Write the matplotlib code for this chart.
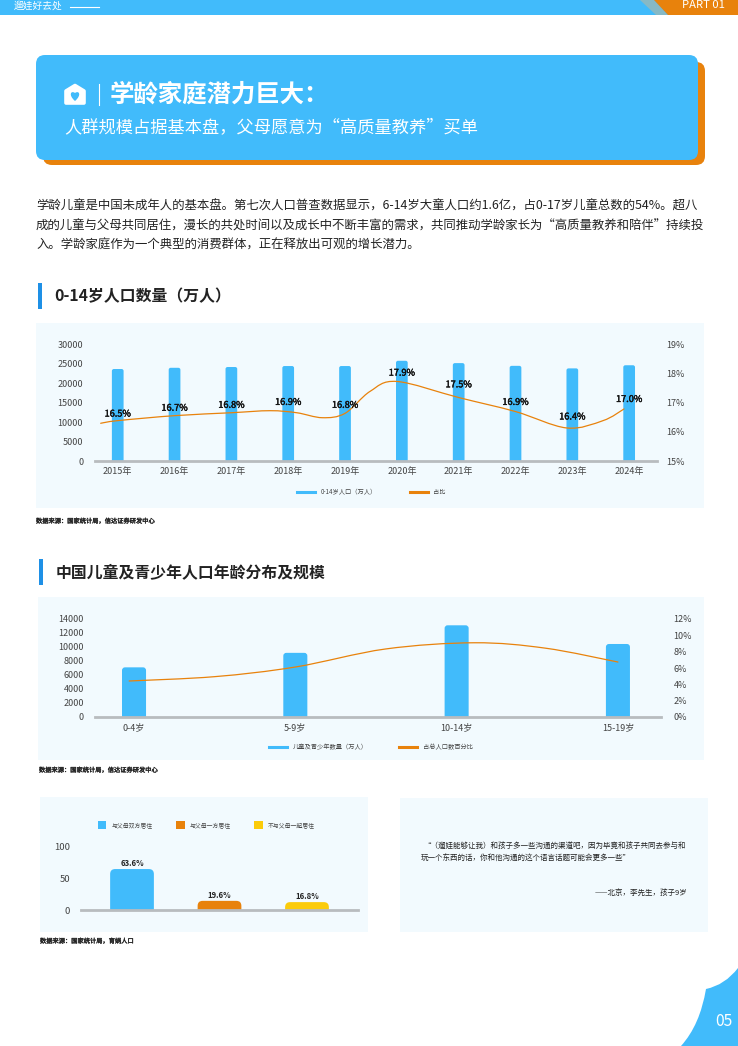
import matplotlib
matplotlib.use("Agg")
import matplotlib.pyplot as plt
import matplotlib.patheffects as pe
from matplotlib.lines import Line2D
from matplotlib.patches import FancyBboxPatch, PathPatch, Polygon, Rectangle
from matplotlib.path import Path

plt.rcParams['font.family'] = ['Noto Sans CJK SC', 'DejaVu Sans']

W, H = 738, 1046
BLUE = '#41BBFB'
ORANGE = '#E8820C'
YELLOW = '#FBCB0A'
PANEL = '#F2FAFE'
GREY = '#B8BCBF'
INK = '#222222'
TICK = '#444444'

# chart 1
years = ['2015年', '2016年', '2017年', '2018年', '2019年', '2020年', '2021年', '2022年', '2023年', '2024年']
pop = [23590, 23900, 24100, 24350, 24350, 25700, 25100, 24400, 23750, 24550]
share_labels = [16.5, 16.7, 16.8, 16.9, 16.8, 17.9, 17.5, 16.9, 16.4, 17.0]
share_x = [-0.3, 0, 1, 2, 2.68, 3.15, 3.6, 4, 4.44, 4.91, 6, 7, 7.9, 8.54, 8.91]
share_y = [16.29, 16.38, 16.55, 16.65, 16.72, 16.65, 16.48, 16.63, 17.38, 17.72, 17.17, 16.69, 16.13, 16.38, 16.78]

# chart 2
ages = ['0-4岁', '5-9岁', '10-14岁', '15-19岁']
age_pop = [7094, 9164, 13100, 10430]
age_x = [-0.03, 0.5, 1, 1.56, 2.11, 2.55, 3]
age_y = [4.41, 4.94, 6.12, 8.33, 9.09, 8.43, 6.73]

# chart 3
live_names = ['与父母双方居住', '与父母一方居住', '不与父母一起居住']
live_labels = [63.6, 19.6, 16.8]
live_heights = [65, 14.5, 12.5]

body = ['学龄儿童是中国未成年人的基本盘。第七次人口普查数据显示，6-14岁大童人口约1.6亿，占0-17岁儿童总数的54%。超八',
        '成的儿童与父母共同居住，漫长的共处时间以及成长中不断丰富的需求，共同推动学龄家长为“高质量教养和陪伴”持续投',
        '入。学龄家庭作为一个典型的消费群体，正在释放出可观的增长潜力。']

fig = plt.figure(figsize=(W / 100, H / 100), dpi=100, facecolor='white')

bg = fig.add_axes([0, 0, 1, 1], zorder=-1)
bg.set_xlim(0, W)
bg.set_ylim(H, 0)
bg.axis('off')


def px_axes(x0, y0, x1, y1):
    ax = fig.add_axes([x0 / W, 1 - y1 / H, (x1 - x0) / W, (y1 - y0) / H])
    ax.patch.set_visible(False)
    return ax


def style_axes(ax, pad_left, pad_bottom=4.5, size=6.5):
    for s in ['top', 'left', 'right']:
        ax.spines[s].set_visible(False)
    ax.spines['bottom'].set_color(GREY)
    ax.spines['bottom'].set_linewidth(2)
    ax.tick_params(axis='both', length=0, labelsize=size, labelcolor=TICK)
    ax.tick_params(axis='y', pad=pad_left)
    ax.tick_params(axis='x', pad=pad_bottom)


def round_bars(ax, bars, r_px, px_w, px_h):
    # swap the square bars for ones with rounded tops
    x0, x1 = ax.get_xlim()
    y0, y1 = ax.get_ylim()
    xu = (x1 - x0) / px_w
    yu = (y1 - y0) / px_h
    for b in bars:
        b.set_visible(False)
        p = FancyBboxPatch((b.get_x(), -r_px * 2 * yu), b.get_width(), b.get_height() + r_px * 2 * yu,
                           boxstyle='round,pad=0,rounding_size=%f' % (r_px * xu),
                           mutation_aspect=yu / xu, fc=b.get_facecolor(), ec='none', clip_on=True)
        ax.add_patch(p)
        p.set_clip_path(ax.patch)


def smooth_line(ax, xs, ys, color=ORANGE, lw=0.9):
    # Catmull-Rom segments through the read points
    pts = list(zip(xs, ys))
    verts = [pts[0]]
    codes = [Path.MOVETO]
    for i in range(len(pts) - 1):
        a = pts[max(i - 1, 0)]
        b = pts[i]
        c = pts[i + 1]
        d = pts[min(i + 2, len(pts) - 1)]
        verts += [(b[0] + (c[0] - a[0]) / 6, b[1] + (c[1] - a[1]) / 6),
                  (c[0] - (d[0] - b[0]) / 6, c[1] - (d[1] - b[1]) / 6), c]
        codes += [Path.CURVE4] * 3
    ax.add_patch(PathPatch(Path(verts, codes), fc='none', ec=color, lw=lw, capstyle='round'))


def card(x0, y0, x1, y1, r, color):
    bg.add_patch(FancyBboxPatch((x0, y0), x1 - x0, y1 - y0, boxstyle='round,pad=0,rounding_size=%f' % r,
                                fc=color, ec='none'))


def section(x, y0, y1, tx, label):
    bg.add_patch(Rectangle((x, y0), 4, y1 - y0, fc='#1E90E6', ec='none'))
    bg.text(tx, (y0 + y1) / 2, label, fontsize=11.4, fontweight='bold', color=INK, va='center')


def source(x, y, label):
    t = bg.text(x, y, label, fontsize=4.5, color=INK, va='center')
    t.set_path_effects([pe.withStroke(linewidth=0.25, foreground=INK)])


# header
bg.add_patch(Rectangle((0, 0), W, 15, fc=BLUE, ec='none'))
bg.add_patch(Polygon([(640, 0), (654, 0), (668, 15), (656, 15)], fc='#86B9C6', ec='none'))
bg.add_patch(Polygon([(654, 0), (W, 0), (W, 15), (668, 15)], fc=ORANGE, ec='none'))
bg.text(14, 6, '遛娃好去处', fontsize=7, color='white', va='center')
bg.plot([70, 99], [6.5, 6.5], color='white', lw=0.8)
bg.text(682, 5.5, 'PART 01', fontsize=8.1, color='white', va='center')

# title card
card(43, 62, 705, 165, 9, ORANGE)
card(36, 55, 698, 160, 9, BLUE)
bg.add_patch(Polygon([(66, 91), (75, 85.5), (84, 91), (84, 103), (66, 103)], fc='white', ec='white', lw=2.6, joinstyle='round'))
heart = Path([(75, 101), (68, 95), (71, 90), (75, 93), (79, 90), (82, 95), (75, 101)],
             [Path.MOVETO] + [Path.CURVE4] * 6)
bg.add_patch(PathPatch(heart, fc=BLUE, ec='none'))
bg.plot([99, 99], [84, 105], color='white', lw=0.8)
bg.text(110, 95, '学龄家庭潜力巨大：', fontsize=17.6, fontweight='bold', color='white', va='center')
bg.text(64, 128.5, '人群规模占据基本盘，父母愿意为“高质量教养”买单', fontsize=12.4, color='white', va='center')

for line, y in zip(body, [206, 226, 245]):
    bg.text(36, y, line, fontsize=8.93, color=INK, va='center')

# chart 1
section(38, 283, 309, 54, '0-14岁人口数量（万人）')
bg.add_patch(Rectangle((36, 323), 668, 185, fc=PANEL, ec='none'))
source(36, 521, '数据来源：国家统计局，信达证券研发中心')

ax1 = px_axes(95, 344, 657, 461)
x1 = list(range(len(years)))
bars1 = ax1.bar(x1, pop, width=0.206, color=BLUE)
ax1.set_xlim(-0.4, 9.49)
ax1.set_ylim(0, 30000)
ax1.set_xticks(x1, years)
ax1.set_yticks(range(0, 30001, 5000))
style_axes(ax1, 8.5)
round_bars(ax1, bars1, 2, 562, 117)
ax1r = ax1.twinx()
ax1r.patch.set_visible(False)
ax1r.set_ylim(15, 19)
ax1r.set_yticks([15, 16, 17, 18, 19], ['15%', '16%', '17%', '18%', '19%'])
for s in ax1r.spines.values():
    s.set_visible(False)
ax1r.tick_params(axis='y', length=0, labelsize=6.5, labelcolor=TICK, pad=6.5)
smooth_line(ax1r, share_x, share_y)
for i, v in enumerate(share_labels):
    t = ax1r.annotate('%.1f%%' % v, (i, v), xytext=(0, 2.2), textcoords='offset points', ha='center', va='center',
                      fontsize=6.6, color='#111111')
    t.set_path_effects([pe.withStroke(linewidth=0.3, foreground='#111111')])
ax1.legend([Line2D([], [], color=BLUE, lw=2.2), Line2D([], [], color=ORANGE, lw=2.2)],
           ['0-14岁人口（万人）', '占比'], loc='center left', bbox_to_anchor=(297 / W, 1 - 492 / H),
           bbox_transform=fig.transFigure, ncol=2, frameon=False, fontsize=4.5, borderpad=0, borderaxespad=0,
           handlelength=2.9, handletextpad=0.9, columnspacing=5.2, labelcolor=TICK)

# chart 2
section(39, 559, 585, 56, '中国儿童及青少年人口年龄分布及规模')
bg.add_patch(Rectangle((38, 597), 666, 163, fc=PANEL, ec='none'))
source(39, 770, '数据来源：国家统计局，信达证券研发中心')

ax2 = px_axes(94.5, 619, 661, 717)
x2 = list(range(len(ages)))
bars2 = ax2.bar(x2, age_pop, width=0.149, color=BLUE)
ax2.set_xlim(-0.245, 3.267)
ax2.set_ylim(0, 14000)
ax2.set_xticks(x2, ages)
ax2.set_yticks(range(0, 14001, 2000))
style_axes(ax2, 7.5)
round_bars(ax2, bars2, 3, 566.5, 98)
ax2r = ax2.twinx()
ax2r.patch.set_visible(False)
ax2r.set_ylim(0, 12)
ax2r.set_yticks(range(0, 13, 2), ['%d%%' % p for p in range(0, 13, 2)])
for s in ax2r.spines.values():
    s.set_visible(False)
ax2r.tick_params(axis='y', length=0, labelsize=6.5, labelcolor=TICK, pad=9)
smooth_line(ax2r, age_x, age_y)
ax2.legend([Line2D([], [], color=BLUE, lw=2.2), Line2D([], [], color=ORANGE, lw=2.2)],
           ['儿童及青少年数量（万人）', '占总人口数百分比'], loc='center left', bbox_to_anchor=(269 / W, 1 - 747 / H),
           bbox_transform=fig.transFigure, ncol=2, frameon=False, fontsize=4.5, borderpad=0, borderaxespad=0,
           handlelength=2.9, handletextpad=0.9, columnspacing=5, labelcolor=TICK)

# chart 3
bg.add_patch(Rectangle((40, 797), 328, 135, fc=PANEL, ec='none'))
source(40, 941, '数据来源：国家统计局，育娲人口')

ax3 = px_axes(81, 847, 358, 910)
x3 = list(range(len(live_labels)))
bars3 = ax3.bar(x3, live_heights, width=0.5, color=[BLUE, ORANGE, YELLOW])
ax3.set_xlim(-0.583, 2.583)
ax3.set_ylim(0, 100)
ax3.set_xticks([])
ax3.set_yticks([0, 50, 100])
style_axes(ax3, 8, size=6.8)
round_bars(ax3, bars3, 5, 277, 63)
for i, v in enumerate(live_labels):
    ax3.annotate('%.1f%%' % v, (i, live_heights[i]), xytext=(0, 4.2), textcoords='offset points', ha='center', va='center',
                 fontsize=5.6, fontweight='bold', color=INK)
ax3.legend([Rectangle((0, 0), 1, 1, fc=c) for c in [BLUE, ORANGE, YELLOW]], live_names,
           loc='center left', bbox_to_anchor=(98 / W, 1 - 825 / H), bbox_transform=fig.transFigure, ncol=3,
           frameon=False, fontsize=4.2, borderpad=0, borderaxespad=0, handlelength=1.45, handleheight=1.9,
           handletextpad=0.9, columnspacing=4, labelcolor=TICK)

# quote
bg.add_patch(Rectangle((400, 798), 308, 134, fc=PANEL, ec='none'))
bg.text(423, 846.5, '“（遛娃能够让我）和孩子多一些沟通的渠道吧，因为毕竟和孩子共同去参与和', fontsize=5.42, color=INK, va='center')
bg.text(421, 857.5, '玩一个东西的话，你和他沟通的这个语言话题可能会更多一些”', fontsize=5.42, color=INK, va='center')
bg.text(687, 892.5, '——北京，李先生，孩子9岁', fontsize=5.42, color=INK, va='center', ha='right')

# page corner
corner = Path([(681, 1046), (700, 1025), (706, 989), (725, 985), (738, 968), (738, 1046), (681, 1046)],
              [Path.MOVETO, Path.CURVE3, Path.CURVE3, Path.CURVE3, Path.CURVE3, Path.LINETO, Path.CLOSEPOLY])
bg.add_patch(PathPatch(corner, fc=BLUE, ec='none'))
bg.text(724, 1021, '05', fontsize=11.3, color='white', ha='center', va='center')

fig.savefig('out.png', dpi=100)
